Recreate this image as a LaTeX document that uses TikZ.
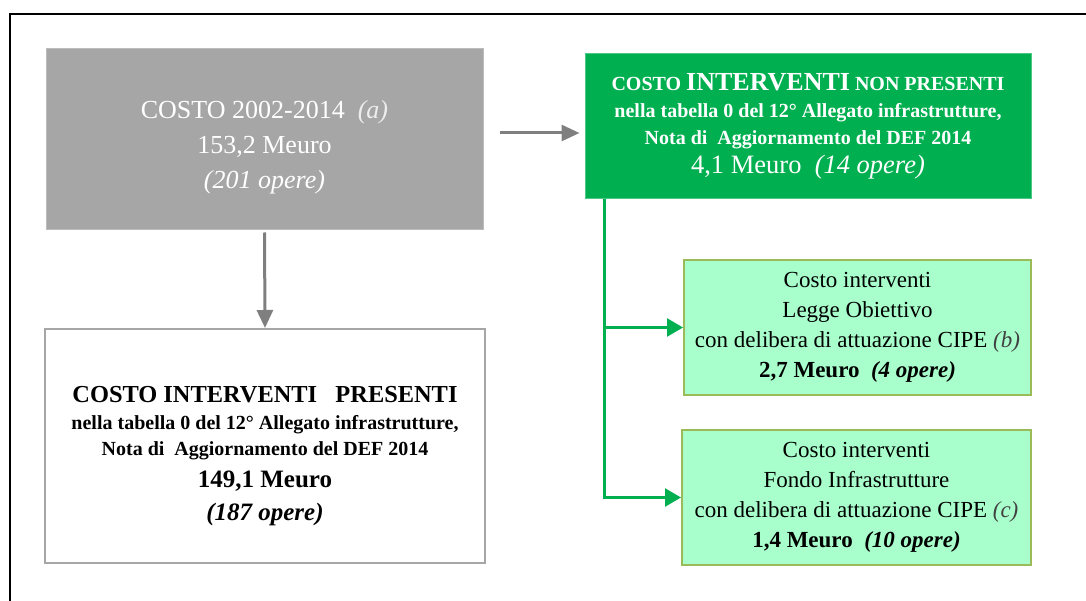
\documentclass[tikz,border=0pt]{standalone}
\usepackage{fontspec}
\setmainfont{Liberation Serif}
\usetikzlibrary{arrows.meta}
\definecolor{boxgray}{HTML}{A6A6A6}
\definecolor{linegray}{HTML}{7F7F7F}
\definecolor{costgreen}{HTML}{00B050}
\definecolor{palegreen}{HTML}{A8FFCC}
\definecolor{olivebord}{HTML}{9BBB59}
\begin{document}
\begin{tikzpicture}[x=1pt,y=-1pt,
  box/.style={rectangle, inner sep=0pt, align=center},
  grayarrow/.style={draw=linegray, line width=3pt, -{Triangle[length=18pt,width=16pt]}},
  greenarrow/.style={draw=costgreen, line width=2.5pt, -{Triangle[length=16pt,width=18pt]}}]
\useasboundingbox (0,0) rectangle (1086,601);
% Cornice
\draw[line width=2.5pt] (10,601) -- (10,14) -- (1086,14);
% Costo totale
\node[box, fill=boxgray, draw=boxgray!75, line width=1pt, minimum width=437pt, minimum height=181pt] (totale) at (264.5,139.5) {};
\node[box, text=white, font=\fontsize{26}{35}\selectfont] (totaletxt) at ([yshift=-8pt]totale.center)
  {COSTO 2002-2014\ \ {\itshape\color{white!80!boxgray}(a)}\\153,2 Meuro\\{\itshape (201 opere)}};
% Interventi non presenti
\node[box, fill=costgreen, draw=costgreen!70, line width=1pt, minimum width=446pt, minimum height=145pt,
  text=white, font=\bfseries\fontsize{20}{27}\selectfont] (nonpres) at (808,126)
  {COSTO {\fontsize{26}{27}\selectfont INTERVENTI} NON PRESENTI\\
   nella tabella 0 del 12° Allegato infrastrutture,\\
   Nota di\ \ Aggiornamento del DEF 2014\\[2pt]
   {\mdseries\fontsize{26.5}{27}\selectfont 4,1 Meuro\ \ \itshape(14 opere)}};
% Interventi presenti
\node[box, fill=white, draw=boxgray, line width=2pt, minimum width=440pt, minimum height=234pt] (pres) at (265,446) {};
\node[box, font=\bfseries\fontsize{20}{26}\selectfont] (prestxt) at ([yshift=-10pt]pres.center)
  {{\fontsize{24.4}{26}\selectfont COSTO INTERVENTI\ \ \ PRESENTI}\\[1pt]
   nella tabella 0 del 12° Allegato infrastrutture,\\
   Nota di\ \ Aggiornamento del DEF 2014\\[6pt]
   {\fontsize{25}{26}\selectfont 149,1 Meuro}\\[7pt]
   {\fontsize{25}{26}\selectfont\itshape (187 opere)}};
% Legge Obiettivo
\node[box, fill=palegreen, draw=olivebord, line width=2pt, minimum width=347pt, minimum height=135pt,
  font=\fontsize{23}{30}\selectfont] (legge) at (857.5,327.5)
  {Costo interventi\\Legge Obiettivo\\
   con delibera di attuazione CIPE {\itshape\color{darkgray}(b)}\\
   {\bfseries 2,7 Meuro\ \ \itshape(4 opere)}};
% Fondo Infrastrutture
\node[box, fill=palegreen, draw=olivebord, line width=2pt, minimum width=349pt, minimum height=135pt,
  font=\fontsize{23}{30}\selectfont] (fondo) at (856.5,497.5)
  {Costo interventi\\Fondo Infrastrutture\\
   con delibera di attuazione CIPE {\itshape\color{darkgray}(c)}\\
   {\bfseries 1,4 Meuro\ \ \itshape(10 opere)}};
% Frecce
\coordinate (ga) at (500,133);
\draw[grayarrow, shorten >=5pt] (ga) -- (ga -| nonpres.west);
\draw[grayarrow, shorten <=2pt] (totale.south) -- (pres.north);
\coordinate (gb) at ([xshift=20pt]nonpres.south west);
\draw[greenarrow] (gb) |- (legge.west);
\draw[greenarrow] (gb) |- (fondo.west);
\end{tikzpicture}
\end{document}
